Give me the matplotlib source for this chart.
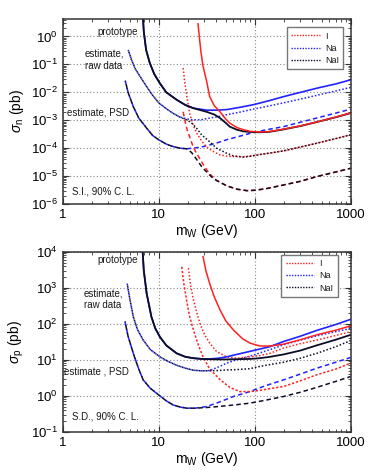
import matplotlib
matplotlib.use("Agg")
import matplotlib.pyplot as plt
import numpy as np

plt.rcParams['font.family'] = ['Liberation Sans', 'DejaVu Sans']
plt.rcParams['mathtext.fontset'] = 'custom'
plt.rcParams['mathtext.rm'] = 'Liberation Sans'
plt.rcParams['mathtext.it'] = 'Liberation Sans:italic'
plt.rcParams['text.color'] = '#1a1a1a'

RED = '#ff2222'
BLUE = '#2222ff'
DARK = '#0d0d26'

# ---------------- S.I. (sigma_n) ----------------
si_proto_I_m = [25.7, 26.5, 27.5, 29, 31.6, 34, 38, 43.6, 50, 55, 65, 76, 90, 113, 140, 200, 300, 443, 700, 1000]
si_proto_I_s = [2.85, 1.0, 0.3, 0.085, 0.025, 7e-3, 3.3e-3, 2e-3, 1.1e-3, 7.9e-4, 5.5e-4, 4.6e-4, 4.0e-4, 3.8e-4, 3.9e-4, 4.8e-4, 6.3e-4, 8.7e-4, 1.3e-3, 1.85e-3]

si_proto_Na_m = [6.8, 7.0, 7.4, 8.1, 9, 10.3, 12, 15.4, 19, 23, 31.6, 40, 51, 70, 97, 144, 200, 300, 443, 700, 1000]
si_proto_Na_s = [8, 1.5, 0.33, 0.11, 0.045, 0.021, 0.01, 5.4e-3, 3.5e-3, 2.7e-3, 2.3e-3, 2.3e-3, 2.4e-3, 2.9e-3, 3.6e-3, 5.1e-3, 7e-3, 1e-2, 1.4e-2, 2e-2, 2.8e-2]

si_proto_NaI_m = [6.8, 7.0, 7.4, 8.1, 9, 10.3, 12, 15.4, 19, 23, 31.6, 38, 43.5, 50, 55, 65, 76, 90, 113, 140, 200, 300, 443, 700, 1000]
si_proto_NaI_s = [8, 1.5, 0.33, 0.11, 0.045, 0.021, 0.01, 5.4e-3, 3.5e-3, 2.7e-3, 2e-3, 1.6e-3, 1.2e-3, 8e-4, 5.9e-4, 4.6e-4, 4e-4, 3.8e-4, 3.7e-4, 3.8e-4, 4.7e-4, 6.2e-4, 8.6e-4, 1.28e-3, 1.8e-3]

si_raw_Na_m = [4.82, 5.2, 5.7, 6.4, 7.5, 8.5, 10, 12, 14, 16.6, 20, 23, 28, 34, 42, 51, 70, 97, 144, 200, 300, 443, 700, 1000]
si_raw_Na_s = [0.33, 0.15, 0.07, 0.037, 0.016, 8.5e-3, 4.2e-3, 2.6e-3, 1.8e-3, 1.3e-3, 1.1e-3, 1.03e-3, 1.05e-3, 1.2e-3, 1.35e-3, 1.57e-3, 1.95e-3, 2.5e-3, 3.3e-3, 4.2e-3, 5.7e-3, 7.8e-3, 1.12e-2, 1.5e-2]

si_raw_I_m = [18, 18.5, 19.2, 20, 21, 22.5, 24.8, 28, 31.6, 36, 43.6, 51, 60, 76, 90, 113, 150, 200, 300, 443, 700, 1000]
si_raw_I_s = [0.074, 0.03, 0.012, 5e-3, 1.8e-3, 8e-4, 3.5e-4, 1.8e-4, 1.1e-4, 8e-5, 5.7e-5, 5.2e-5, 5e-5, 4.9e-5, 5.2e-5, 5.9e-5, 6.8e-5, 8e-5, 1.1e-4, 1.5e-4, 2.2e-4, 3e-4]

si_raw_NaI_m = [4.82, 5.2, 5.7, 6.4, 7.5, 8.5, 10, 12, 14, 16.6, 20, 22, 24.8, 28, 34, 40, 51, 60, 76, 90, 113, 150, 200, 300, 443, 700, 1000]
si_raw_NaI_s = [0.33, 0.15, 0.07, 0.037, 0.016, 8.5e-3, 4.2e-3, 2.6e-3, 1.8e-3, 1.3e-3, 1.0e-3, 8e-4, 5.2e-4, 3e-4, 1.7e-4, 1e-4, 6.6e-5, 5.3e-5, 4.8e-5, 5.1e-5, 5.9e-5, 6.8e-5, 8e-5, 1.1e-4, 1.5e-4, 2.2e-4, 3e-4]

si_psd_Na_m = [4.49, 4.8, 5.44, 6.2, 7.5, 8.7, 10, 12, 14, 16.6, 19.5, 23, 28, 34, 42, 51, 65, 90, 130, 200, 300, 443, 700, 1000]
si_psd_Na_s = [0.026, 0.01, 3.1e-3, 1.2e-3, 5.2e-4, 2.8e-4, 2e-4, 1.4e-4, 1.15e-4, 1.0e-4, 9.5e-5, 1e-4, 1.1e-4, 1.3e-4, 1.6e-4, 2e-4, 2.5e-4, 3.4e-4, 4.5e-4, 5.9e-4, 8.5e-4, 1.2e-3, 1.8e-3, 2.5e-3]

si_psd_I_m = [18, 19, 20, 21, 22.5, 24.5, 27, 30, 34, 40, 51, 65, 83, 100, 130, 200, 300, 443, 700, 1000]
si_psd_I_s = [2e-3, 8e-4, 4e-4, 2.6e-4, 1.3e-4, 7e-5, 4e-5, 2.2e-5, 1.2e-5, 7e-6, 4.5e-6, 3.4e-6, 3e-6, 3.1e-6, 3.5e-6, 4.8e-6, 6.5e-6, 9.6e-6, 1.4e-5, 1.9e-5]

si_psd_NaI_m = [4.49, 4.8, 5.44, 6.2, 7.5, 8.7, 10, 12, 14, 16.6, 19.5, 22, 24.8, 28, 31.6, 36, 40, 51, 65, 83, 100, 130, 200, 300, 443, 700, 1000]
si_psd_NaI_s = [0.026, 0.01, 3.1e-3, 1.2e-3, 5.2e-4, 2.8e-4, 2e-4, 1.4e-4, 1.15e-4, 1.0e-4, 9.5e-5, 7e-5, 4e-5, 2.2e-5, 1.4e-5, 9e-6, 7e-6, 4.5e-6, 3.4e-6, 3e-6, 3.1e-6, 3.5e-6, 4.8e-6, 6.5e-6, 9.6e-6, 1.4e-5, 1.9e-5]

# ---------------- S.D. (sigma_p) ----------------
sd_proto_I_m = [29, 31, 34, 38, 43.6, 50, 60, 75, 89, 113, 144, 200, 300, 443, 700, 1000]
sd_proto_I_s = [7300, 3000, 1300, 550, 240, 120, 67, 38, 29, 24, 24, 27, 36, 49, 66, 87]

sd_proto_Na_m = [6.75, 7.0, 7.5, 8.4, 9.2, 10.3, 12, 15.4, 19, 23, 28, 34, 42, 51, 65, 89, 144, 200, 300, 443, 700, 1000]
sd_proto_Na_s = [1.5e4, 3000, 690, 156, 75, 43, 25, 15, 12, 11, 10.5, 10.5, 11, 12, 14, 17, 23, 32, 45, 65, 95, 132]

sd_proto_NaI_m = [6.75, 7.0, 7.5, 8.4, 9.2, 10.3, 12, 15.4, 19, 23, 28, 34, 42, 51, 65, 76, 89, 113, 144, 200, 300, 443, 700, 1000]
sd_proto_NaI_s = [1.5e4, 3000, 690, 156, 75, 43, 25, 15, 12, 11, 10.5, 10.3, 10.2, 10.2, 10.3, 10.4, 10.5, 11, 12, 14, 18, 25, 36, 49]

sd_raw_Na_m = [4.7, 5.0, 5.44, 6.0, 6.9, 8.2, 10.3, 12.5, 15.4, 19, 23, 28, 34, 42, 51, 65, 89, 144, 200, 300, 443, 700, 1000]
sd_raw_Na_s = [1300, 500, 156, 70, 35, 19, 12, 9, 7, 5.8, 5.1, 4.9, 5.0, 6.3, 8, 10, 12.5, 19, 26, 35, 46, 60, 74]

sd_raw_NaI_m = [4.7, 5.0, 5.44, 6.0, 6.9, 8.2, 10.3, 12.5, 15.4, 19, 23, 28, 34, 42, 51, 65, 89, 113, 144, 200, 300, 443, 700, 1000]
sd_raw_NaI_s = [1300, 500, 156, 70, 35, 19, 12, 9, 7, 5.8, 5.1, 4.9, 4.9, 5.0, 5.2, 5.3, 5.6, 6.5, 7.3, 8.5, 11, 15, 23, 34]

sd_raw_I_m = [20.4, 21.5, 23, 25, 27, 30, 34, 40, 51, 65, 89, 113, 144, 200, 300, 443, 700, 1000]
sd_raw_I_s = [3500, 1200, 460, 200, 100, 50, 29, 17, 12, 11, 12, 13, 15, 21, 28, 35, 47, 60]

sd_psd_I_m = [17.4, 18.3, 19.5, 21, 23, 26, 29, 34, 43.6, 55, 70, 89, 113, 150, 200, 300, 443, 700, 1000]
sd_psd_I_s = [3800, 1300, 460, 160, 67, 25, 12, 5.5, 2.8, 1.7, 1.3, 1.3, 1.4, 1.6, 1.8, 2.6, 3.8, 5.5, 8]

sd_psd_Na_m = [4.46, 4.8, 5.44, 6.2, 6.9, 8.2, 10, 12, 14.2, 17, 19.6, 24, 31.6, 42, 60, 89, 130, 200, 300, 443, 700, 1000]
sd_psd_Na_s = [115, 45, 15, 5.5, 2.75, 1.6, 1.05, 0.72, 0.55, 0.48, 0.45, 0.45, 0.5, 0.65, 0.95, 1.3, 1.9, 2.75, 4, 5.8, 8.5, 11.5]

sd_psd_NaI_m = [4.46, 4.8, 5.44, 6.2, 6.9, 8.2, 10, 12, 14.2, 17, 19.6, 24, 31.6, 42, 60, 89, 130, 200, 300, 443, 700, 1000]
sd_psd_NaI_s = [115, 45, 15, 5.5, 2.75, 1.6, 1.05, 0.72, 0.55, 0.48, 0.45, 0.45, 0.47, 0.5, 0.55, 0.62, 0.75, 0.95, 1.25, 1.7, 2.5, 3.4]

legend_labels = ['I', 'Na', 'NaI']

DOT = (0, (1, 1.3))
DASH = (0, (3, 2))


def style_axes(ax, ylim, ylabel):
    ax.set_xscale('log')
    ax.set_yscale('log')
    ax.set_xlim(1, 1000)
    ax.set_ylim(*ylim)
    ax.set_xticks([1, 10, 100, 1000])
    ax.set_xticklabels(['1', '10', '100', '1000'])
    ax.grid(True, which='major', color='#888888', linestyle=(0, (1, 2)), linewidth=0.8)
    ax.tick_params(which='both', direction='in', top=True, right=True, labelsize=9.5, color='#333333')
    ax.tick_params(which='major', length=4)
    ax.tick_params(which='minor', length=2.2)
    for s in ax.spines.values():
        s.set_color('#333333')
        s.set_linewidth(1.1)
    ax.set_xlabel(r'm$_\mathrm{W}$ (GeV)', fontsize=10, labelpad=1)
    ax.set_ylabel(ylabel, fontsize=10)
    ax.yaxis.set_label_coords(-0.128, 0.5)


def draw(ax, d, i_psd_style):
    ax.plot(*d['psd_Na'], color=BLUE, ls=DASH, lw=1.1)
    ax.plot(*d['psd_I'], color=RED, ls=i_psd_style, lw=1.1)
    ax.plot(*d['psd_NaI'], color=DARK, ls=(2.5, (3, 2)), lw=1.1)
    ax.plot(*d['raw_Na'], color=BLUE, ls=DOT, lw=1.1)
    ax.plot(*d['raw_I'], color=RED, ls=DOT, lw=1.1)
    ax.plot(*d['raw_NaI'], color=DARK, ls=(1.1, (1, 1.3)), lw=1.1)
    ax.plot(*d['proto_Na'], color=BLUE, lw=1.2)
    ax.plot(*d['proto_NaI'], color=DARK, lw=1.3)
    ax.plot(*d['proto_I'], color=RED, lw=1.1)


fig = plt.figure(figsize=(3.82, 4.70), dpi=100)

ax1 = fig.add_axes([0.164, 0.566, 0.754, 0.394])
style_axes(ax1, (1e-6, 4.3), r'$\sigma_\mathrm{n}$ (pb)')
draw(ax1, {
    'proto_I': (si_proto_I_m, si_proto_I_s), 'proto_Na': (si_proto_Na_m, si_proto_Na_s),
    'proto_NaI': (si_proto_NaI_m, si_proto_NaI_s),
    'raw_I': (si_raw_I_m, si_raw_I_s), 'raw_Na': (si_raw_Na_m, si_raw_Na_s),
    'raw_NaI': (si_raw_NaI_m, si_raw_NaI_s),
    'psd_I': (si_psd_I_m, si_psd_I_s), 'psd_Na': (si_psd_Na_m, si_psd_Na_s),
    'psd_NaI': (si_psd_NaI_m, si_psd_NaI_s),
}, DASH)
kw = dict(transform=ax1.transAxes, fontsize=7, va='center')
ax1.text(0.119, 0.930, 'prototype', **kw)
ax1.text(0.077, 0.811, 'estimate,', **kw)
ax1.text(0.077, 0.746, 'raw data', **kw)
ax1.text(0.016, 0.493, 'estimate, PSD', **kw)
ax1.text(0.032, 0.065, 'S.I., 90% C. L.', **kw)

ax2 = fig.add_axes([0.164, 0.0815, 0.754, 0.383])
style_axes(ax2, (0.1, 1e4), r'$\sigma_\mathrm{p}$ (pb)')
draw(ax2, {
    'proto_I': (sd_proto_I_m, sd_proto_I_s), 'proto_Na': (sd_proto_Na_m, sd_proto_Na_s),
    'proto_NaI': (sd_proto_NaI_m, sd_proto_NaI_s),
    'raw_I': (sd_raw_I_m, sd_raw_I_s), 'raw_Na': (sd_raw_Na_m, sd_raw_Na_s),
    'raw_NaI': (sd_raw_NaI_m, sd_raw_NaI_s),
    'psd_I': (sd_psd_I_m, sd_psd_I_s), 'psd_Na': (sd_psd_Na_m, sd_psd_Na_s),
    'psd_NaI': (sd_psd_NaI_m, sd_psd_NaI_s),
}, (0, (1.5, 1.2)))
kw = dict(transform=ax2.transAxes, fontsize=7, va='center')
ax2.text(0.119, 0.954, 'prototype', **kw)
ax2.text(0.074, 0.770, 'estimate,', **kw)
ax2.text(0.074, 0.704, 'raw data', **kw)
ax2.text(0.004, 0.332, 'estimate , PSD', **kw)
ax2.text(0.032, 0.082, 'S.D., 90% C. L.', **kw)

for ax, anchor in [(ax1, (0.99, 0.98)), (ax2, (0.97, 1.008))]:
    handles = [plt.Line2D([], [], color=c, ls=(0, (1, 1)), lw=1.0) for c in (RED, BLUE, DARK)]
    leg = ax.legend(handles, legend_labels, loc='upper right', bbox_to_anchor=anchor,
                    fontsize=6.5, handlelength=3.2, handletextpad=0.5, borderpad=0.5,
                    labelspacing=0.35, fancybox=False, framealpha=1)
    leg.get_frame().set_edgecolor('#777777')
    leg.get_frame().set_linewidth(1.0)

fig.savefig('out.png', dpi=100)
